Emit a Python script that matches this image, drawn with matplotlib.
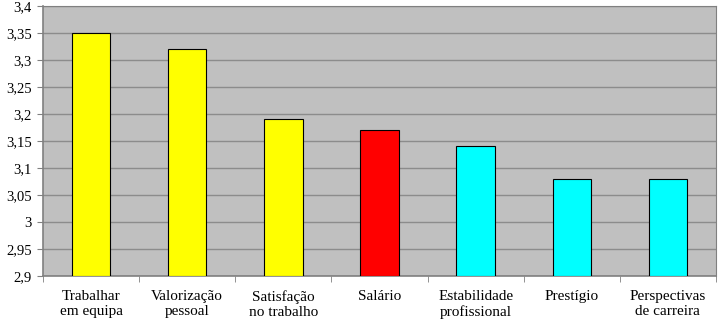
import matplotlib
matplotlib.use("Agg")
import matplotlib.pyplot as plt
from matplotlib.ticker import MultipleLocator, FuncFormatter, FixedLocator
import numpy as np

categories = ["Trabalhar\nem equipa", "Valorização\npessoal", "Satisfação\nno trabalho",
              "Salário", "Estabilidade\nprofissional", "Prestígio", "Perspectivas\nde carreira"]
values = [3.35, 3.32, 3.19, 3.17, 3.14, 3.08, 3.08]
colors = ["#FFFF00", "#FFFF00", "#FFFF00", "#FF0000", "#00FFFF", "#00FFFF", "#00FFFF"]

plt.rcParams['font.family'] = ['Liberation Serif', 'DejaVu Serif']

fig = plt.figure(figsize=(7.18, 3.22), dpi=100)
ax = fig.add_axes([43/718, 46/322, (716-43)/718, (276-6)/322])
ax.set_facecolor("#C0C0C0")
x = np.arange(len(categories))
base = 2.9
ax.bar(x, np.array(values) - base, bottom=base, width=0.4, color=colors,
       edgecolor="black", linewidth=0.8, zorder=3)
ax.set_xlim(-0.5, len(categories) - 0.5)
ax.set_ylim(2.9, 3.4)
ax.yaxis.set_major_locator(MultipleLocator(0.05))
ax.yaxis.set_major_formatter(FuncFormatter(lambda v, p: f"{v:.2f}".rstrip("0").rstrip(".").replace(".", ",")))
ax.grid(axis="y", color="#8C8C8C", linewidth=1.0, zorder=1)
ax.set_xticks(x)
ax.set_xticklabels(categories, fontsize=11, linespacing=1.2)
ax.tick_params(axis="x", length=0, pad=10)
ax.xaxis.set_minor_locator(FixedLocator(np.arange(-0.5, len(categories), 1.0)))
ax.tick_params(axis="x", which="minor", length=4, color="#808080")
ax.tick_params(axis="y", labelsize=10.5, length=4, color="#808080", pad=4)
for s in ["top", "right", "left", "bottom"]:
    ax.spines[s].set_color("#808080")
ax.spines["left"].set_linewidth(1.2)
ax.spines["bottom"].set_linewidth(1.2)
fig.savefig("out.png", dpi=100)
